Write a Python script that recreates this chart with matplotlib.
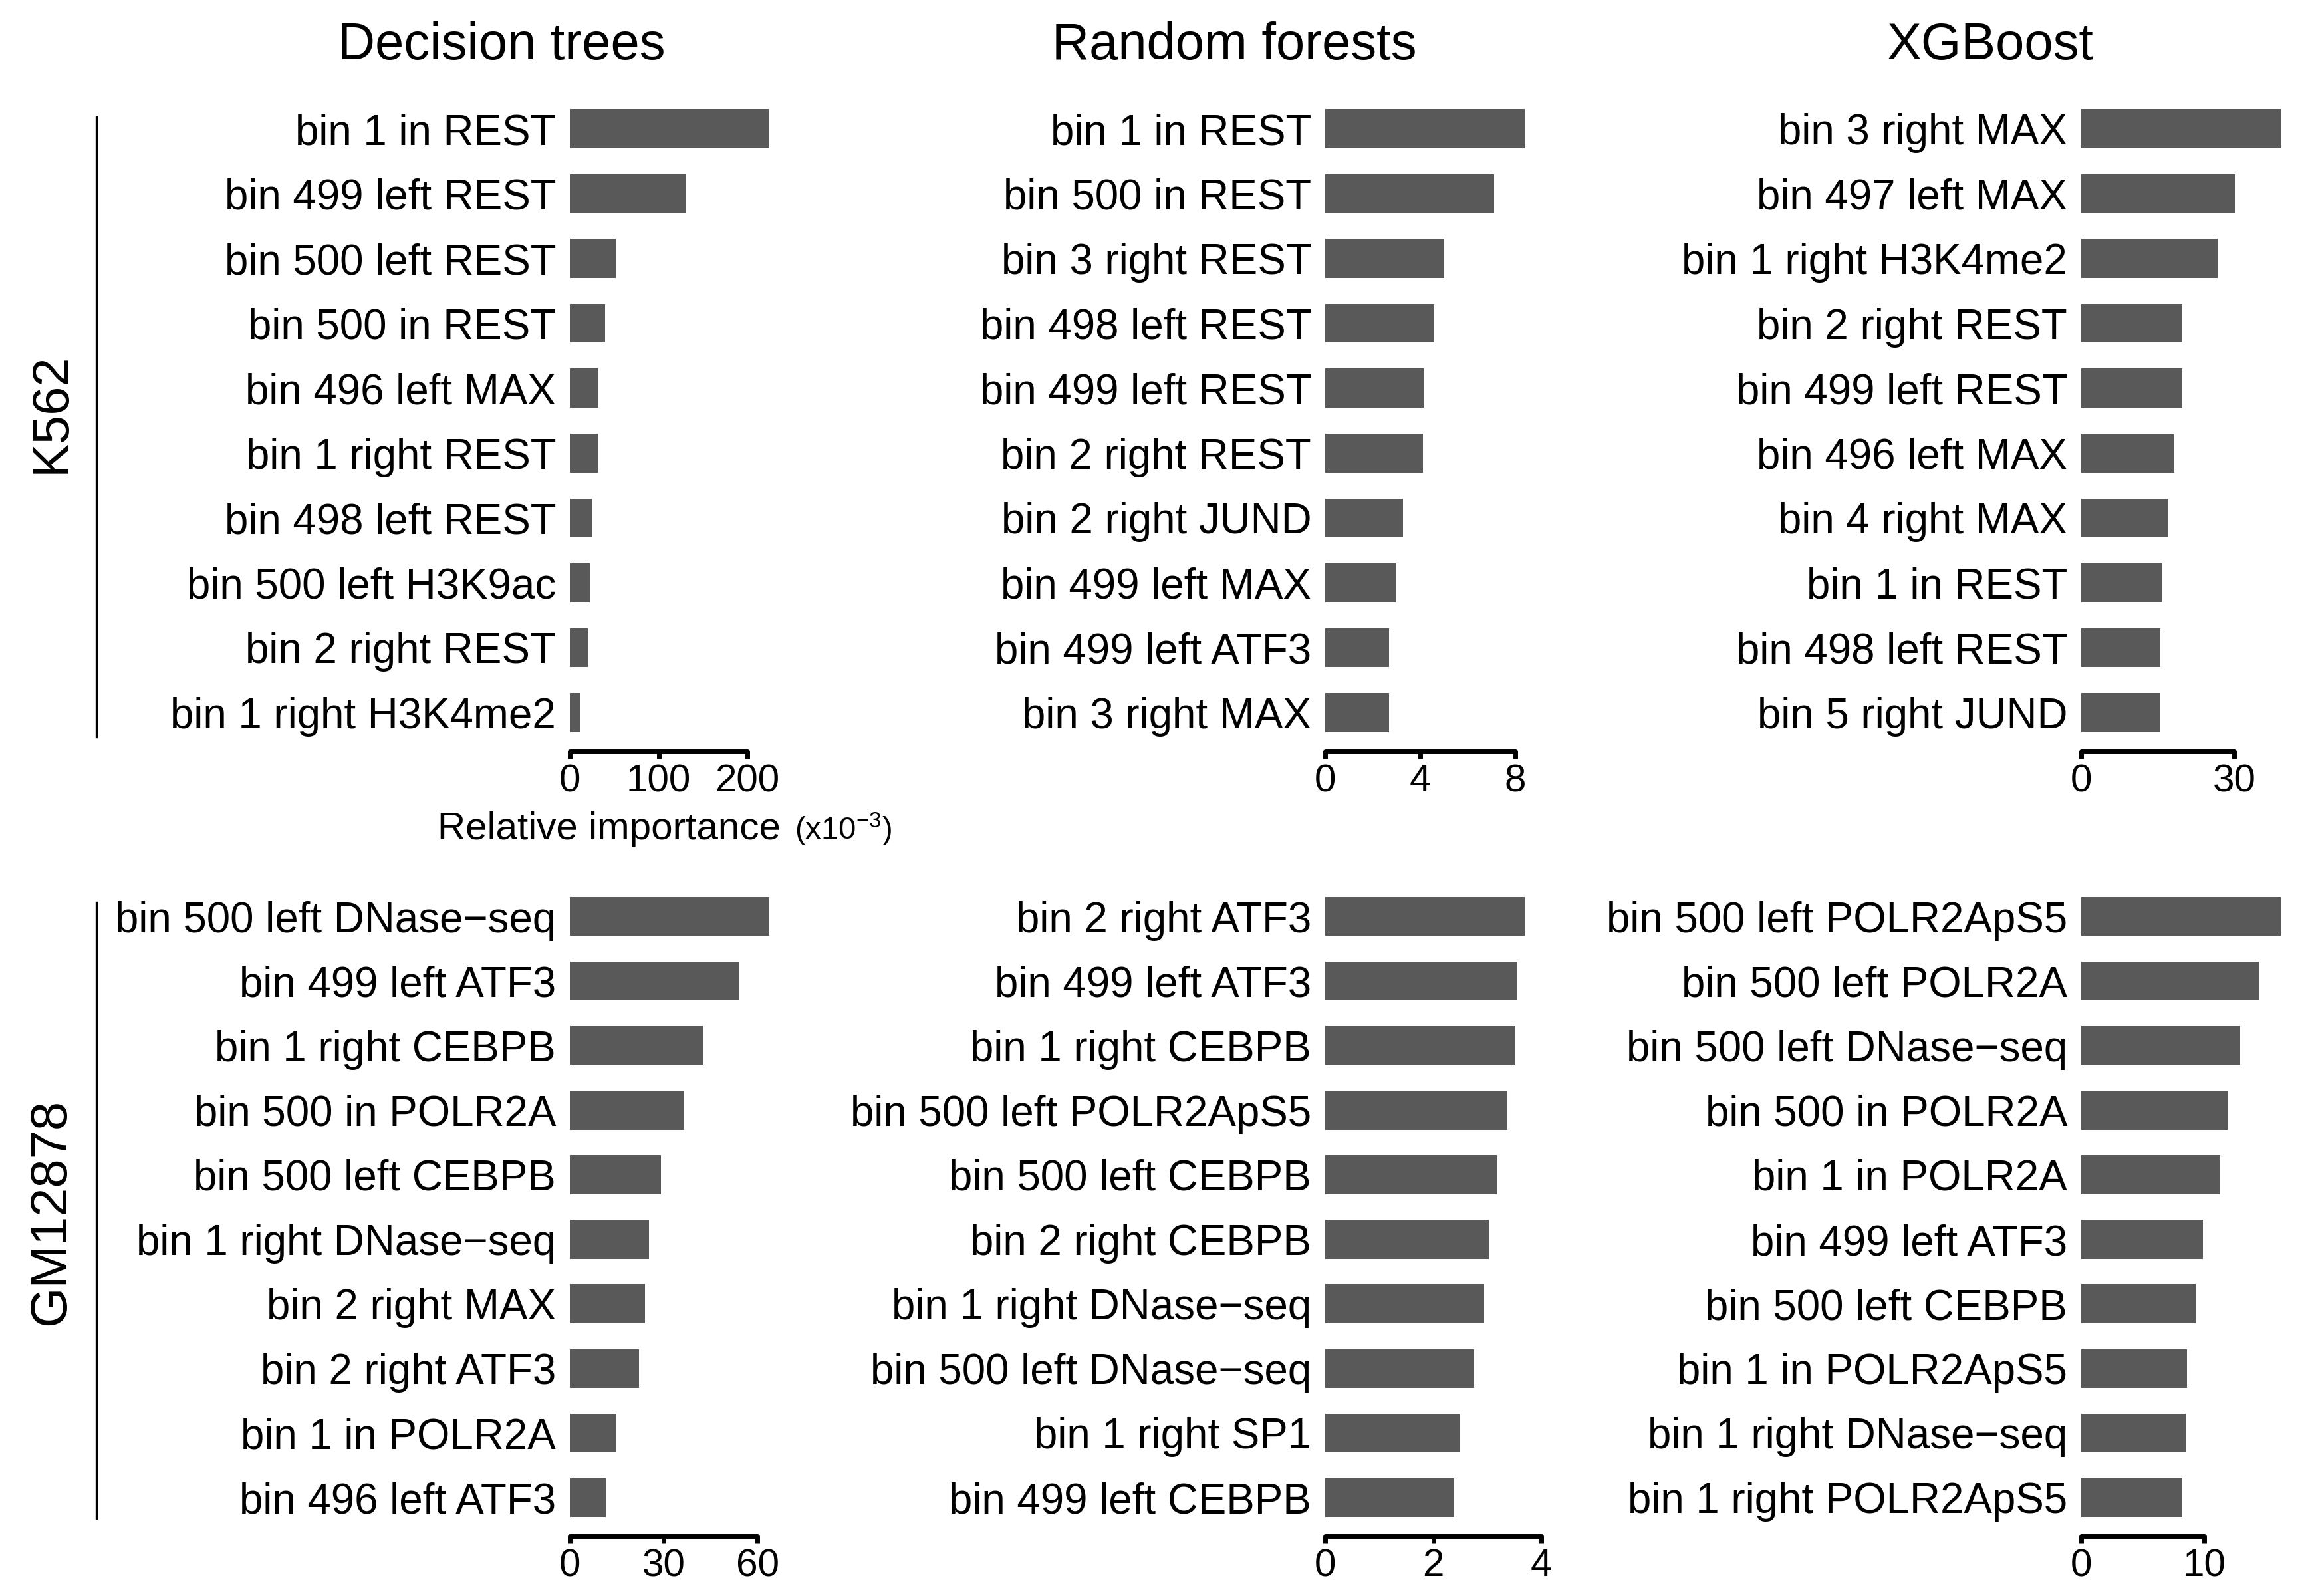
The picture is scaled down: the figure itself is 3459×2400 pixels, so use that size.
import numpy as np
import matplotlib
matplotlib.use("Agg")
import matplotlib.pyplot as plt
from matplotlib.lines import Line2D

plt.rcParams['font.family'] = ['Liberation Sans', 'DejaVu Sans']
plt.rcParams['mathtext.fontset'] = 'custom'
plt.rcParams['mathtext.rm'] = 'Liberation Sans'
plt.rcParams['mathtext.default'] = 'regular'

# column / row names
methods = ["Decision trees", "Random forests", "XGBoost"]
cell_lines = ["K562", "GM12878"]

# K562
dt_k562_labels = ["bin 1 in REST", "bin 499 left REST", "bin 500 left REST", "bin 500 in REST",
                  "bin 496 left MAX", "bin 1 right REST", "bin 498 left REST", "bin 500 left H3K9ac",
                  "bin 2 right REST", "bin 1 right H3K4me2"]
dt_k562_vals = [224.7, 131.1, 51.7, 39.7, 32.2, 31.5, 24.7, 22.5, 20.2, 11.2]

rf_k562_labels = ["bin 1 in REST", "bin 500 in REST", "bin 3 right REST", "bin 498 left REST",
                  "bin 499 left REST", "bin 2 right REST", "bin 2 right JUND", "bin 499 left MAX",
                  "bin 499 left ATF3", "bin 3 right MAX"]
rf_k562_vals = [8.39, 7.11, 5.02, 4.60, 4.13, 4.10, 3.26, 2.96, 2.68, 2.68]

xgb_k562_labels = ["bin 3 right MAX", "bin 497 left MAX", "bin 1 right H3K4me2", "bin 2 right REST",
                   "bin 499 left REST", "bin 496 left MAX", "bin 4 right MAX", "bin 1 in REST",
                   "bin 498 left REST", "bin 5 right JUND"]
xgb_k562_vals = [39.1, 30.1, 26.7, 19.8, 19.8, 18.3, 17.0, 15.9, 15.5, 15.4]

# GM12878
dt_gm_labels = ["bin 500 left DNase\u2212seq", "bin 499 left ATF3", "bin 1 right CEBPB", "bin 500 in POLR2A",
                "bin 500 left CEBPB", "bin 1 right DNase\u2212seq", "bin 2 right MAX", "bin 2 right ATF3",
                "bin 1 in POLR2A", "bin 496 left ATF3"]
dt_gm_vals = [63.8, 54.3, 42.6, 36.6, 29.1, 25.3, 24.0, 22.1, 14.9, 11.5]

rf_gm_labels = ["bin 2 right ATF3", "bin 499 left ATF3", "bin 1 right CEBPB", "bin 500 left POLR2ApS5",
                "bin 500 left CEBPB", "bin 2 right CEBPB", "bin 1 right DNase\u2212seq",
                "bin 500 left DNase\u2212seq", "bin 1 right SP1", "bin 499 left CEBPB"]
rf_gm_vals = [3.69, 3.55, 3.52, 3.37, 3.17, 3.02, 2.94, 2.76, 2.50, 2.39]

xgb_gm_labels = ["bin 500 left POLR2ApS5", "bin 500 left POLR2A", "bin 500 left DNase\u2212seq",
                 "bin 500 in POLR2A", "bin 1 in POLR2A", "bin 499 left ATF3", "bin 500 left CEBPB",
                 "bin 1 in POLR2ApS5", "bin 1 right DNase\u2212seq", "bin 1 right POLR2ApS5"]
xgb_gm_vals = [16.2, 14.4, 12.9, 11.9, 11.3, 9.9, 9.3, 8.6, 8.5, 8.2]

ticks = [[[0, 100, 200], [0, 4, 8], [0, 30]],
         [[0, 30, 60], [0, 2, 4], [0, 10]]]

panels = [[(dt_k562_labels, dt_k562_vals), (rf_k562_labels, rf_k562_vals), (xgb_k562_labels, xgb_k562_vals)],
          [(dt_gm_labels, dt_gm_vals), (rf_gm_labels, rf_gm_vals), (xgb_gm_labels, xgb_gm_vals)]]

W, H = 3459, 2400
fig = plt.figure(figsize=(W / 200, H / 200), dpi=200)

col_left = [857, 1993, 3130]      # px, where zero sits
row_top = [135, 1320]
row_bot = [1130, 2310]
bar_px = 300                      # px length of the longest bar

for r in range(2):
    for c in range(3):
        labels, vals = panels[r][c]
        vmax = max(vals)
        xmax = vmax * 1.12
        width_px = bar_px * 1.12
        ax = fig.add_axes([col_left[c] / W, 1 - row_bot[r] / H,
                           width_px / W, (row_bot[r] - row_top[r]) / H])
        y = np.arange(len(vals))
        ax.barh(y, vals, height=0.6, color='#595959')
        ax.set_xlim(0, xmax)
        ax.set_ylim(len(vals) - 0.4, -0.6)
        ax.set_yticks(y)
        ax.set_yticklabels(labels, fontsize=22.9)
        ax.set_xticks(ticks[r][c])
        ax.tick_params(axis='y', length=0, pad=7.5)
        ax.tick_params(axis='x', length=4, width=2.5, labelsize=21, pad=2.5)
        for s in ['top', 'right', 'left']:
            ax.spines[s].set_visible(False)
        ax.spines['bottom'].set_linewidth(2.5)
        ax.spines['bottom'].set_capstyle('round')
        ax.spines['bottom'].set_bounds(0, ticks[r][c][-1])
        for t in ax.xaxis.get_ticklines():
            t.set_solid_capstyle('round')
        ax.patch.set_visible(False)

# column titles
for x, name in zip([754, 1856, 2993], methods):
    fig.text(x / W, 1 - 68 / H, name, fontsize=28, ha='center', va='center')

# row labels with vertical lines
for (y0, y1), yc, name in zip([(176, 1108), (1357, 2283)], [621, 1822], cell_lines):
    fig.add_artist(Line2D([145 / W, 145 / W], [1 - y0 / H, 1 - y1 / H], color='black', lw=1.2))
    fig.text(77 / W, 1 - yc / H, name, fontsize=28, rotation=90, ha='center', va='center')

# axis title under first panel
fig.text(1190 / W, 1 - 1247 / H, "Relative importance ", fontsize=21, ha='right', va='center')
fig.text(1195 / W, 1 - 1247 / H, "(x10$^{-3}$)", fontsize=17, ha='left', va='center')

fig.savefig("out.png", dpi=200)
